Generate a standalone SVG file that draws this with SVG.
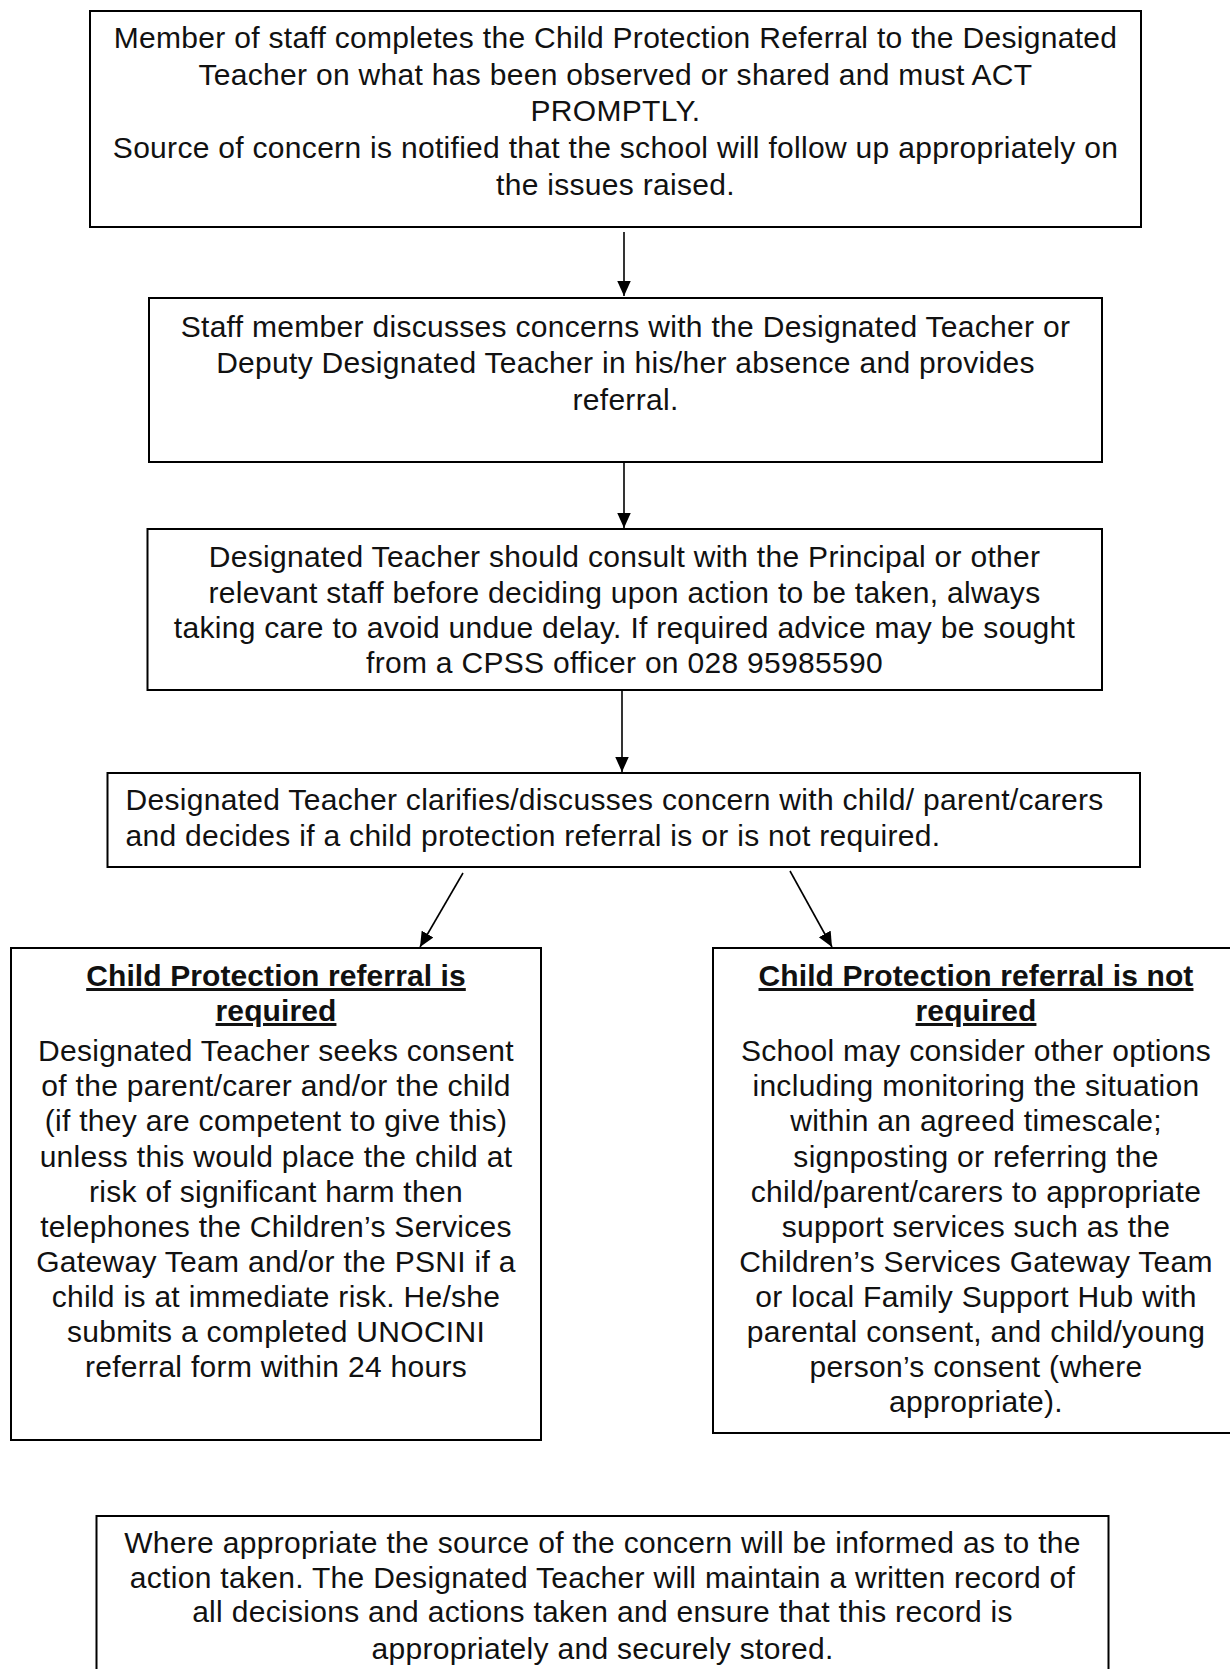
<svg xmlns="http://www.w3.org/2000/svg" width="1230" height="1669" viewBox="0 0 1230 1669">
<style>
.box{fill:#fff;stroke:#000;stroke-width:2}
text{font-family:"Liberation Sans",Arial,sans-serif;font-size:30px;fill:#111;letter-spacing:0.3px}
.c{text-anchor:middle}
.t{font-weight:bold;text-decoration:underline;letter-spacing:0.1px}
.con{stroke:#000;stroke-width:1.6;fill:none}
</style>
<defs>
<marker id="ah" viewBox="0 0 10 10" refX="10" refY="5" markerWidth="15" markerHeight="15" markerUnits="userSpaceOnUse" orient="auto">
<path d="M0,0.5 L10,5 L0,9.5 z" fill="#000"/>
</marker>
</defs>
<rect width="1230" height="1669" fill="#fff"/>
<g id="connectors">
<line class="con" x1="624" y1="232" x2="624" y2="296" marker-end="url(#ah)"/>
<line class="con" x1="624" y1="452" x2="624" y2="528" marker-end="url(#ah)"/>
<line class="con" x1="622" y1="691" x2="622" y2="772" marker-end="url(#ah)"/>
<line class="con" x1="463" y1="873" x2="420" y2="947" marker-end="url(#ah)"/>
<line class="con" x1="790" y1="871" x2="832" y2="947" marker-end="url(#ah)"/>
</g>
<g id="n1">
<rect class="box" x="90" y="11" width="1051" height="216"/>
<text class="c" x="615.5" y="47.5">Member of staff completes the Child Protection Referral to the Designated</text>
<text class="c" x="615.5" y="84.5">Teacher on what has been observed or shared and must ACT</text>
<text class="c" x="615.5" y="121">PROMPTLY.</text>
<text class="c" x="615.5" y="158">Source of concern is notified that the school will follow up appropriately on</text>
<text class="c" x="615.5" y="195">the issues raised.</text>
</g>
<g id="n2">
<rect class="box" x="149" y="298" width="953" height="164"/>
<text class="c" x="625.5" y="337">Staff member discusses concerns with the Designated Teacher or</text>
<text class="c" x="625.5" y="373">Deputy Designated Teacher in his/her absence and provides</text>
<text class="c" x="625.5" y="410">referral.</text>
</g>
<g id="n3">
<rect class="box" x="147.5" y="529" width="954.5" height="161"/>
<text class="c" x="624.5" y="567">Designated Teacher should consult with the Principal or other</text>
<text class="c" x="624.5" y="603">relevant staff before deciding upon action to be taken, always</text>
<text class="c" x="624.5" y="638">taking care to avoid undue delay. If required advice may be sought</text>
<text class="c" x="624.5" y="673">from a CPSS officer on 028 95985590</text>
</g>
<g id="n4">
<rect class="box" x="107.5" y="773" width="1032.5" height="94"/>
<text x="125.5" y="810">Designated Teacher clarifies/discusses concern with child/ parent/carers</text>
<text x="125.5" y="846">and decides if a child protection referral is or is not required.</text>
</g>
<g id="n5">
<rect class="box" x="11" y="948" width="530" height="492"/>
<text class="c t" x="276" y="986">Child Protection referral is</text>
<text class="c t" x="276" y="1021">required</text>
<text class="c" x="276" y="1061">Designated Teacher seeks consent</text>
<text class="c" x="276" y="1096">of the parent/carer and/or the child</text>
<text class="c" x="276" y="1131">(if they are competent to give this)</text>
<text class="c" x="276" y="1167">unless this would place the child at</text>
<text class="c" x="276" y="1202">risk of significant harm then</text>
<text class="c" x="276" y="1237">telephones the Children’s Services</text>
<text class="c" x="276" y="1272">Gateway Team and/or the PSNI if a</text>
<text class="c" x="276" y="1307">child is at immediate risk. He/she</text>
<text class="c" x="276" y="1342">submits a completed UNOCINI</text>
<text class="c" x="276" y="1377">referral form within 24 hours</text>
</g>
<g id="n6">
<rect class="box" x="713" y="948" width="530" height="485"/>
<text class="c t" x="976" y="986">Child Protection referral is not</text>
<text class="c t" x="976" y="1021">required</text>
<text class="c" x="976" y="1061">School may consider other options</text>
<text class="c" x="976" y="1096">including monitoring the situation</text>
<text class="c" x="976" y="1131">within an agreed timescale;</text>
<text class="c" x="976" y="1167">signposting or referring the</text>
<text class="c" x="976" y="1202">child/parent/carers to appropriate</text>
<text class="c" x="976" y="1237">support services such as the</text>
<text class="c" x="976" y="1272">Children’s Services Gateway Team</text>
<text class="c" x="976" y="1307">or local Family Support Hub with</text>
<text class="c" x="976" y="1342">parental consent, and child/young</text>
<text class="c" x="976" y="1377">person’s consent (where</text>
<text class="c" x="976" y="1412">appropriate).</text>
</g>
<g id="n7">
<rect class="box" x="96.5" y="1516" width="1012" height="200"/>
<text class="c" x="602.5" y="1553">Where appropriate the source of the concern will be informed as to the</text>
<text class="c" x="602.5" y="1588">action taken. The Designated Teacher will maintain a written record of</text>
<text class="c" x="602.5" y="1622">all decisions and actions taken and ensure that this record is</text>
<text class="c" x="602.5" y="1659">appropriately and securely stored.</text>
</g>
</svg>
